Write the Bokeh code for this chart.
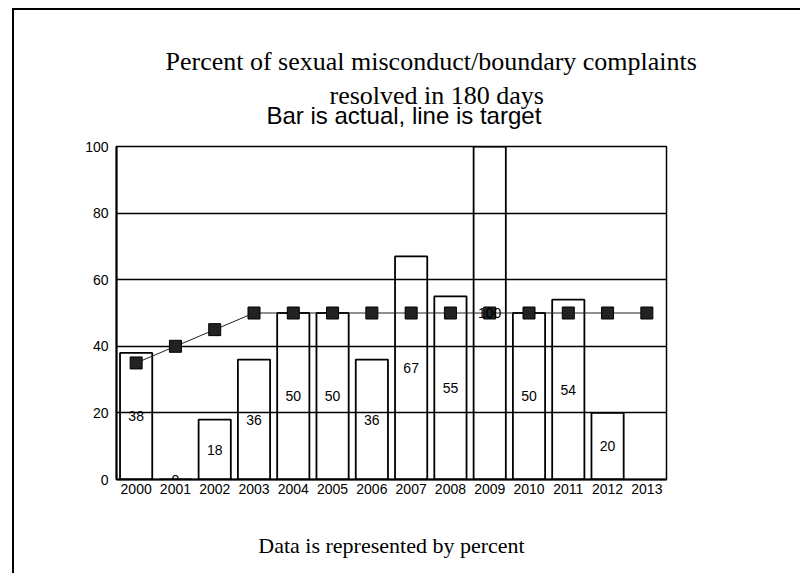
from bokeh.plotting import figure
from bokeh.models import ColumnDataSource, Title, FactorRange
from bokeh.embed import file_html
from bokeh.resources import INLINE
from bokeh.core.properties import value

years = ["2000", "2001", "2002", "2003", "2004", "2005", "2006",
         "2007", "2008", "2009", "2010", "2011", "2012", "2013"]
actual = [38, 0, 18, 36, 50, 50, 36, 67, 55, 100, 50, 54, 20, None]
target = [35, 40, 45, 50, 50, 50, 50, 50, 50, 50, 50, 50, 50, 50]
y_ticks = [0, 20, 40, 60, 80, 100]
title_line1 = "Percent of sexual misconduct/boundary complaints"
title_line2 = "resolved in 180 days"
note_text = "Bar is actual, line is target"
footer_text = "Data is represented by percent"

bar_years = [y for y, a in zip(years, actual) if a is not None]
bar_vals = [a for a in actual if a is not None]
bar_src = ColumnDataSource(dict(
    x=bar_years,
    top=bar_vals,
    mid=[v / 2 for v in bar_vals],
    label=[str(v) for v in bar_vals],
))
line_src = ColumnDataSource(dict(x=years, y=target))

p = figure(
    x_range=FactorRange(factors=years, range_padding=0),
    y_range=(0, 100),
    width=788, height=565,
    output_backend="svg", toolbar_location=None,
    min_border_left=102, min_border_right=136,
    min_border_top=136, min_border_bottom=96,
)
p.styles = {"border-left": "2px solid black", "border-top": "2px solid black",
            "margin-left": "12px", "margin-top": "8px"}

p.vbar(x="x", top="top", bottom=0, width=0.82, source=bar_src,
       fill_color=None, line_color="black", line_width=1.8)
p.line(x="x", y="y", source=line_src, line_color="#222222", line_width=1)
p.scatter(x="x", y="y", source=line_src, marker="square", size=12,
          fill_color="#222222", line_color="black", line_width=1)
p.text(x="x", y="mid", text="label", source=bar_src,
       text_font=value("Liberation Sans"), text_font_size="14px",
       text_align="center", text_baseline="middle", text_color="black")

p.xgrid.visible = False
p.ygrid.ticker = y_ticks
p.ygrid.grid_line_color = "black"
p.ygrid.grid_line_width = 1.5
p.outline_line_color = "black"
p.outline_line_width = 1.5

for ax in (p.xaxis[0], p.yaxis[0]):
    ax.axis_line_color = "black"
    ax.axis_line_width = 2
    ax.major_tick_in = 0
    ax.major_tick_out = 0
    ax.minor_tick_in = 0
    ax.minor_tick_out = 0
    ax.major_label_text_font = "Liberation Sans"
    ax.major_label_text_font_size = "14px"
    ax.major_label_text_color = "black"
p.yaxis.ticker = y_ticks
p.yaxis.major_label_standoff = 8
p.xaxis.major_label_standoff = 4

# footer as the x-axis label
p.xaxis.axis_label = footer_text
p.xaxis.axis_label_text_font = "Liberation Serif"
p.xaxis.axis_label_text_font_size = "22px"
p.xaxis.axis_label_text_font_style = "normal"
p.xaxis.axis_label_text_color = "black"
p.xaxis.axis_label_standoff = 36

# titles stacked above the frame (first added = closest to the frame)
p.add_layout(Title(text=note_text, text_font="Liberation Sans", text_font_size="24px",
                   text_font_style="normal", text_color="black",
                   align="left", offset=150, standoff=35), "above")
p.add_layout(Title(text=title_line2, text_font="Liberation Serif", text_font_size="26px",
                   text_font_style="normal", text_color="black",
                   align="left", offset=213, standoff=-55), "above")
p.add_layout(Title(text=title_line1, text_font="Liberation Serif", text_font_size="26px",
                   text_font_style="normal", text_color="black",
                   align="left", offset=49, standoff=14), "above")

open("out.html", "w").write(file_html(p, INLINE))
